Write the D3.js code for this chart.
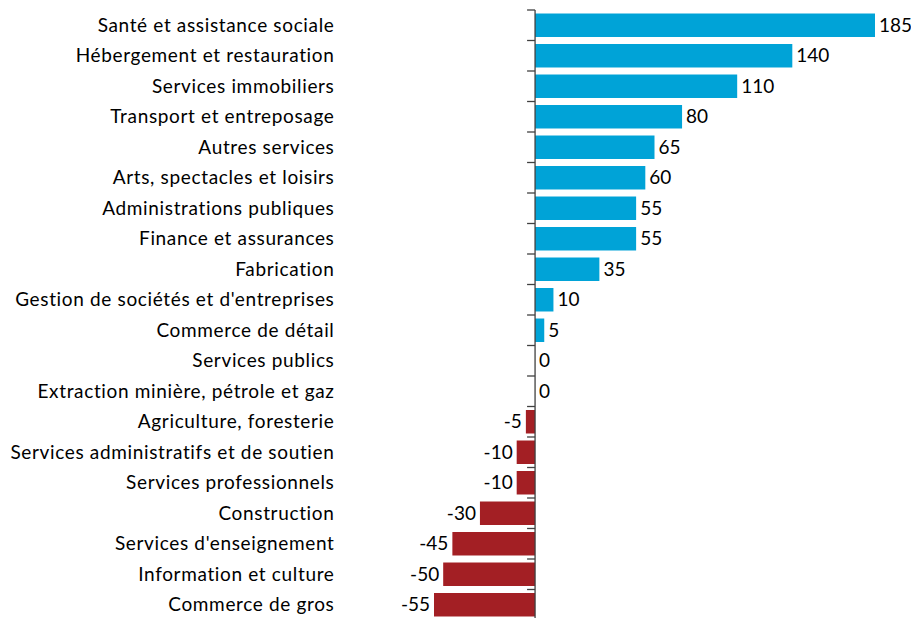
<!DOCTYPE html>
<html>
<head>
<meta charset="utf-8">
<script src="https://cdn.jsdelivr.net/npm/d3@7"></script>
<style>
  body { margin: 0; background: #fff; }
  text { font-family: Lato, "Open Sans", sans-serif; fill: #000; }
</style>
</head>
<body>
<svg width="911" height="618"></svg>
<script>
// categories, top to bottom
var categories = [
  "Santé et assistance sociale",
  "Hébergement et restauration",
  "Services immobiliers",
  "Transport et entreposage",
  "Autres services",
  "Arts, spectacles et loisirs",
  "Administrations publiques",
  "Finance et assurances",
  "Fabrication",
  "Gestion de sociétés et d'entreprises",
  "Commerce de détail",
  "Services publics",
  "Extraction minière, pétrole et gaz",
  "Agriculture, foresterie",
  "Services administratifs et de soutien",
  "Services professionnels",
  "Construction",
  "Services d'enseignement",
  "Information et culture",
  "Commerce de gros"
];
var values = [185, 140, 110, 80, 65, 60, 55, 55, 35, 10, 5, 0, 0, -5, -10, -10, -30, -45, -50, -55];

var data = categories.map(function(c, i) { return {name: c, value: values[i]}; });

var svg = d3.select("svg"),
    margin = {top: 10, right: 36, bottom: -2, left: 434},
    width = +svg.attr("width"),
    height = +svg.attr("height");

var x = d3.scaleLinear()
    .domain([-55, 185])
    .range([margin.left, width - margin.right]);

var y = d3.scaleBand()
    .domain(categories)
    .range([margin.top, height - margin.bottom])
    .paddingInner(0.23)
    .paddingOuter(0.115);

svg.append("g")
    .selectAll("rect")
    .data(data)
    .enter()
    .append("rect")
    .attr("x", function(d) { return x(Math.min(0, d.value)); })
    .attr("width", function(d) { return Math.abs(x(d.value) - x(0)); })
    .attr("y", function(d) { return y(d.name); })
    .attr("height", y.bandwidth())
    .attr("fill", function(d) { return d.value < 0 ? "#a31f24" : "#00a3d7"; });

// zero axis with ticks between categories
var step = y.step();
var axisG = svg.append("g").attr("class", "axis");
axisG.append("line")
    .attr("x1", x(0)).attr("x2", x(0))
    .attr("y1", margin.top).attr("y2", height - margin.bottom)
    .attr("stroke", "#404040").attr("stroke-width", 1.3);
axisG.selectAll(".tick")
    .data(d3.range(categories.length + 1))
    .enter()
    .append("line")
    .attr("x1", x(0) - 8).attr("x2", x(0))
    .attr("y1", function(i) { return margin.top + i * step; })
    .attr("y2", function(i) { return margin.top + i * step; })
    .attr("stroke", "#404040").attr("stroke-width", 1.3);

// category labels
svg.append("g")
    .selectAll("text")
    .data(data)
    .enter()
    .append("text")
    .attr("x", 334.5)
    .attr("y", function(d) { return y(d.name) + y.bandwidth() / 2; })
    .attr("dy", "0.35em")
    .attr("text-anchor", "end")
    .style("font-size", "19px")
    .style("letter-spacing", "0.65px")
    .text(function(d) { return d.name; });

// value labels
svg.append("g")
    .selectAll("text")
    .data(data)
    .enter()
    .append("text")
    .attr("x", function(d) { return d.value < 0 ? x(d.value) - 4 : x(d.value) + 4; })
    .attr("y", function(d) { return y(d.name) + y.bandwidth() / 2; })
    .attr("dy", "0.35em")
    .attr("text-anchor", function(d) { return d.value < 0 ? "end" : "start"; })
    .style("font-size", "19px")
    .text(function(d) { return d.value; });
</script>
</body>
</html>
